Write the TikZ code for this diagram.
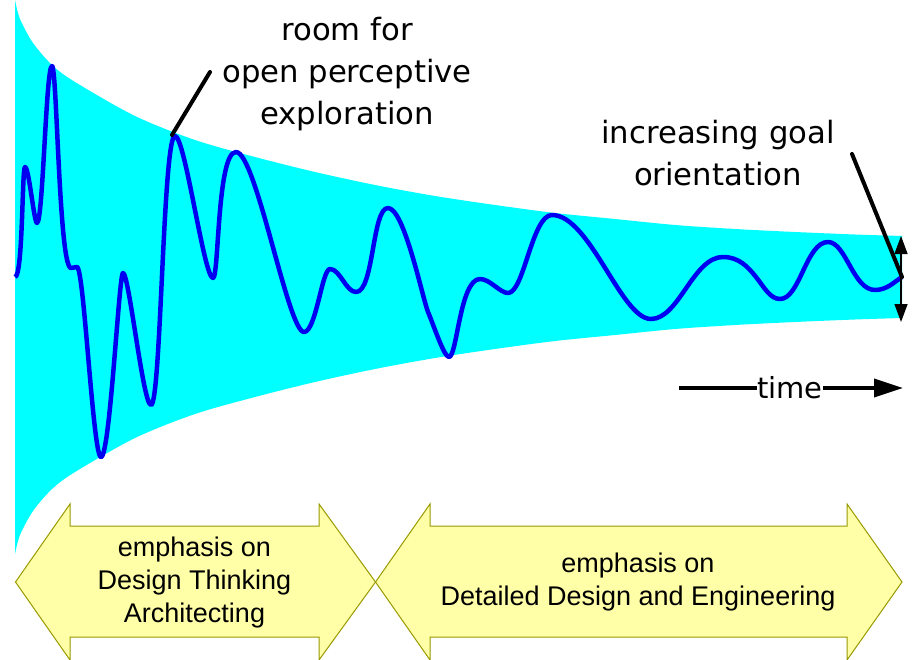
\documentclass[tikz,border=0pt]{standalone}
\usepackage{fontspec}
\setmainfont{Liberation Sans}
\newfontfamily\notefont{DejaVu Sans}
\usetikzlibrary{arrows.meta}
\definecolor{funnelcyan}{RGB}{0,255,255}
\definecolor{pathblue}{RGB}{0,0,240}
\definecolor{bandfill}{RGB}{255,255,168}
\definecolor{bandline}{RGB}{153,153,0}
\tikzset{
  notetext/.style={align=center,inner sep=0pt,font=\notefont\fontsize{30.7}{42}\selectfont},
  timetext/.style={inner sep=0pt,font=\notefont\fontsize{29}{42}\selectfont},
  bandtext/.style={align=center,inner sep=0pt,font=\fontsize{27}{33}\selectfont},
  band/.style={draw=bandline,fill=bandfill,line width=1pt},
  leader/.style={line width=4pt,line cap=round},
}
\begin{document}
\begin{tikzpicture}[x=1pt,y=-1pt]
    \useasboundingbox (0,0) rectangle (920,660);
    % funnel
    \fill[funnelcyan] plot[smooth,tension=0.5] coordinates {(15,0) (20,19) (33,43) (52,65) (75,82) (135,116) (195,140) (255,157) (315,172) (375,185) (435,196) (495,205) (555,213) (615,219) (675,225) (735,229) (795,232) (855,234.5) (902,236)}
        -- plot[smooth,tension=0.5] coordinates {(902,318) (855,319.5) (795,322) (735,325) (675,329) (615,335) (555,341) (495,349) (435,358) (375,369) (315,382) (255,397) (195,414) (135,438) (75,472) (52,489) (33,511) (20,535) (15,554)} -- cycle;
    % wandering path
    \draw[pathblue,line width=4.5pt,line join=round] (15,277)
        .. controls +(8,0) and +(-3,0) .. (25,167)
        .. controls +(4,0) and +(-3,0) .. (37,223)
        .. controls +(6,0) and +(-6,0) .. (52,66)
        .. controls +(5,0) and +(-12,0) .. (71,268)
        .. controls +(2,0) and +(-2,0) .. (77,267)
        .. controls +(7,0) and +(-8,0) .. (101,457)
        .. controls +(9,0) and +(-4,0) .. (123,273)
        .. controls +(6,0) and +(-8,0) .. (151,405)
        .. controls +(10,0) and +(-12,0) .. (175,136)
        .. controls +(10,0) and +(-9,0) .. (213,278)
        .. controls +(6,0) and +(-19,0) .. (236,152)
        .. controls +(20,0) and +(-16,0) .. (304,332)
        .. controls +(12,0) and +(-8,0) .. (330,269)
        .. controls +(10,0) and +(-10,0) .. (356,292)
        .. controls +(18,0) and +(-16,0) .. (388,208)
        .. controls +(16,0) and +(-6,-16) .. (428,312)
        .. controls +(6,14) and +(-5,0) .. (449,357)
        .. controls +(8,0) and +(-20,0) .. (480,279)
        .. controls +(10,0) and +(-8,0) .. (508,293)
        .. controls +(16,0) and +(-20,0) .. (552,215)
        .. controls +(38,0) and +(-30,0) .. (651,319)
        .. controls +(28,0) and +(-30,0) .. (723,257)
        .. controls +(16,0) and +(-8,-10) .. (756,277)
        .. controls +(8,10) and +(-10,0) .. (780,299)
        .. controls +(20,0) and +(-22,0) .. (828,242)
        .. controls +(18,0) and +(-22,0) .. (875,290)
        .. controls +(12,0) and +(-8,5) .. (902,277);
    % labels
    \node[notetext] (room) at (347,74) {room for\\open perceptive\\exploration};
    \node[notetext] (goal) at (718,153) {increasing goal\\orientation};
    \node[timetext] (time) at (790,388) {time};
    % leaders
    \coordinate (roomfrom) at (210,72);
    \coordinate (roompeak) at (172,135);
    \coordinate (goalfrom) at (852,154);
    \coordinate (goalend) at (902,277);
    \draw[leader] (roomfrom) -- (roompeak);
    \draw[leader] (goalfrom) -- (goalend);
    % width at the end
    \coordinate (widthtop) at (901,236);
    \coordinate (widthbot) at (901,322);
    \draw[line width=1.3pt,{Triangle[length=18pt,width=13pt]}-{Triangle[length=18pt,width=13pt]}] (widthtop) -- (widthbot);
    % time arrow
    \coordinate (timefrom) at (679,388);
    \coordinate (timeto) at (903,388);
    \draw[line width=3.5pt] (timefrom) -- (time);
    \draw[line width=3.5pt,-{Triangle[length=29pt,width=18pt]}] (time) -- (timeto);
    % bands
    \draw[band] (15.5,582) -- (70,504) -- (70,526) -- (319,526) -- (319,504) -- (375.5,582) -- (319,660) -- (319,637) -- (70,637) -- (70,660) -- cycle;
    \draw[band] (375.5,582) -- (430,504) -- (430,526) -- (847,526) -- (847,504) -- (902,582) -- (847,660) -- (847,637) -- (430,637) -- (430,660) -- cycle;
    \node[bandtext] (thinking) at (194.5,582.5) {emphasis on\\Design Thinking\\Architecting};
    \node[bandtext] (detailed) at (638,582.5) {emphasis on\\Detailed Design and Engineering};
\end{tikzpicture}
\end{document}
